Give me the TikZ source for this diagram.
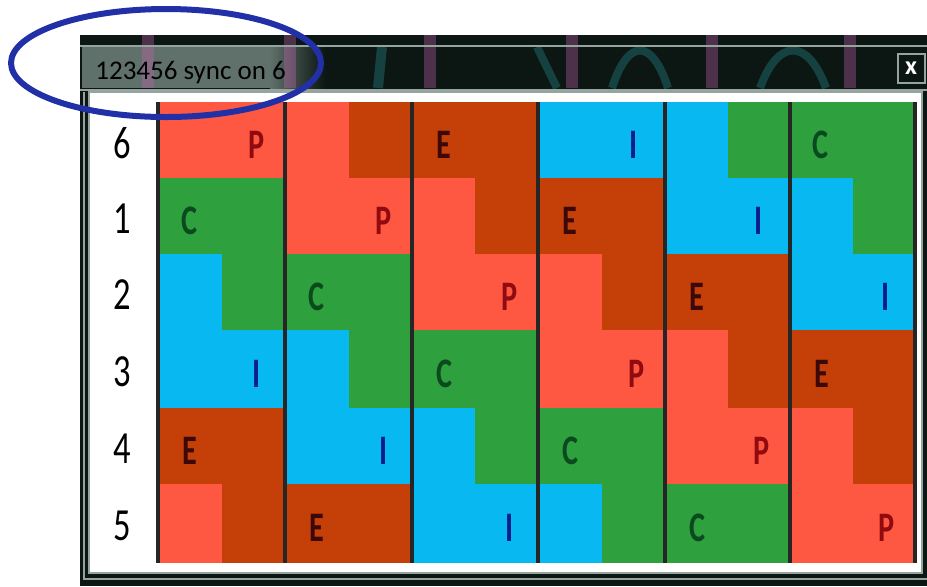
\documentclass[tikz,border=0pt]{standalone}
\usepackage{fontspec}
\setmainfont{Carlito}
\usepackage{xcolor}
\definecolor{sync-red}{RGB}{255,88,66}
\definecolor{sync-brown}{RGB}{196,64,8}
\definecolor{sync-green}{RGB}{46,160,62}
\definecolor{sync-cyan}{RGB}{8,184,240}
\definecolor{sync-ring}{RGB}{34,48,168}
\definecolor{ink-p}{RGB}{144,10,16}
\definecolor{ink-c}{RGB}{11,74,30}
\definecolor{ink-i}{RGB}{10,31,138}
\definecolor{ink-e}{RGB}{60,8,8}
\definecolor{frame-dark}{RGB}{12,22,18}
\definecolor{frame-grey}{RGB}{96,112,106}
\definecolor{frame-line}{RGB}{150,164,160}
\definecolor{frame-teal}{RGB}{30,110,110}
\definecolor{frame-pink}{RGB}{200,100,180}

\begin{document}
\begin{tikzpicture}[x=0.5pt, y=-0.5pt, every node/.style={inner sep=0pt},
  tag/.style={font=\bfseries\fontsize{21}{21}\selectfont, xscale=0.72},
  ptag/.style={tag, text=ink-p}, ctag/.style={tag, text=ink-c},
  itag/.style={tag, text=ink-i}, etag/.style={tag, text=ink-e},
  rowlabel/.style={font=\fontsize{23}{23}\selectfont, xscale=0.75, text=black},
  divider/.style={draw=black!85, line width=1.6pt}]
  \useasboundingbox (0,0) rectangle (927,586);

  % Window frame and title bar
  \fill[frame-dark] (80,35) rectangle (927,586);
  \fill[frame-grey] (82,47) rectangle (270,88);
  \shade[left color=frame-grey, right color=frame-dark] (270,47) rectangle (325,88);
  \foreach \x in {148,290,430,572,712,850}
    \fill[frame-pink, opacity=0.35] (\x-6,35) rectangle (\x+6,88);
  \draw[frame-teal, line width=5pt, opacity=0.5] (382,47) -- (378,88);
  \draw[frame-teal, line width=4pt, opacity=0.5] (537,47) -- (557,88);
  \draw[frame-teal, line width=4pt, opacity=0.5] (612,88) .. controls (628,38) and (652,38) .. (668,88);
  \draw[frame-teal, line width=4pt, opacity=0.5] (760,88) .. controls (778,38) and (808,38) .. (826,88);
  \draw[frame-line, line width=0.8pt] (80,46) -- (927,46);
  \draw[frame-line, line width=1.2pt] (80,90) -- (927,90);
  \node[anchor=base west, font=\fontsize{13.5}{14}\selectfont, text=black] (title) at (95,79) {123456 sync on 6};
  \node[draw=frame-line, line width=1pt, fill=frame-dark, minimum width=13.5pt, minimum height=14.5pt,
    text=white, font=\bfseries\fontsize{13}{13}\selectfont] (close) at (911,68) {x};
  \draw[fill=white, draw=frame-line, line width=1pt] (89,92) rectangle (922,573);
  \draw[frame-line, line width=0.8pt] (84,92) -- (84,579) -- (927,579);

  % Column 1
  \fill[sync-red] (158,102) rectangle (285,178);
  \fill[sync-green] (158,178) rectangle (285,330);
  \fill[sync-cyan] (158,254) rectangle (221.5,330);
  \fill[sync-cyan] (158,330) rectangle (285,408);
  \fill[sync-brown] (158,408) rectangle (285,563);
  \fill[sync-red] (158,484) rectangle (221.5,563);
  \node[ptag] (p1) at (257,145) {P};
  \node[ctag] (c1) at (190,221) {C};
  \node[itag] (i1) at (257,374) {I};
  \node[etag] (e1) at (190,451) {E};

  % Column 2
  \fill[sync-brown] (285,102) rectangle (412,178);
  \fill[sync-red] (285,102) rectangle (348.5,178);
  \fill[sync-red] (285,178) rectangle (412,254);
  \fill[sync-green] (285,254) rectangle (412,408);
  \fill[sync-cyan] (285,330) rectangle (348.5,408);
  \fill[sync-cyan] (285,408) rectangle (412,484);
  \fill[sync-brown] (285,484) rectangle (412,563);
  \node[ptag] (p2) at (384,221) {P};
  \node[ctag] (c2) at (317,297) {C};
  \node[itag] (i2) at (384,451) {I};
  \node[etag] (e2) at (317,528) {E};

  % Column 3
  \fill[sync-brown] (412,102) rectangle (538,254);
  \fill[sync-red] (412,178) rectangle (475,254);
  \fill[sync-red] (412,254) rectangle (538,330);
  \fill[sync-green] (412,330) rectangle (538,484);
  \fill[sync-cyan] (412,408) rectangle (475,484);
  \fill[sync-cyan] (412,484) rectangle (538,563);
  \node[etag] (e3) at (444,145) {E};
  \node[ptag] (p3) at (510,297) {P};
  \node[ctag] (c3) at (444,374) {C};
  \node[itag] (i3) at (510,528) {I};

  % Column 4
  \fill[sync-cyan] (538,102) rectangle (665,178);
  \fill[sync-brown] (538,178) rectangle (665,330);
  \fill[sync-red] (538,254) rectangle (601.5,330);
  \fill[sync-red] (538,330) rectangle (665,408);
  \fill[sync-green] (538,408) rectangle (665,563);
  \fill[sync-cyan] (538,484) rectangle (601.5,563);
  \node[itag] (i4) at (634,145) {I};
  \node[etag] (e4) at (570,221) {E};
  \node[ptag] (p4) at (637,374) {P};
  \node[ctag] (c4) at (570,451) {C};

  % Column 5
  \fill[sync-green] (665,102) rectangle (790,178);
  \fill[sync-cyan] (665,102) rectangle (727.5,178);
  \fill[sync-cyan] (665,178) rectangle (790,254);
  \fill[sync-brown] (665,254) rectangle (790,408);
  \fill[sync-red] (665,330) rectangle (727.5,408);
  \fill[sync-red] (665,408) rectangle (790,484);
  \fill[sync-green] (665,484) rectangle (790,563);
  \node[itag] (i5) at (759,221) {I};
  \node[etag] (e5) at (697,297) {E};
  \node[ptag] (p5) at (762,451) {P};
  \node[ctag] (c5) at (697,528) {C};

  % Column 6
  \fill[sync-green] (790,102) rectangle (915,254);
  \fill[sync-cyan] (790,178) rectangle (852.5,254);
  \fill[sync-cyan] (790,254) rectangle (915,330);
  \fill[sync-brown] (790,330) rectangle (915,484);
  \fill[sync-red] (790,408) rectangle (852.5,484);
  \fill[sync-red] (790,484) rectangle (915,563);
  \node[ctag] (c6) at (820,145) {C};
  \node[itag] (i6) at (886,297) {I};
  \node[etag] (e6) at (822,374) {E};
  \node[ptag] (p6) at (887,528) {P};

  % Column dividers
  \foreach \x in {158,285,412,538,665,790,915}
    \draw[divider] (\x,102) -- (\x,563);

  % Row labels
  \node[rowlabel] (row6) at (122,143) {6};
  \node[rowlabel] (row1) at (122,219) {1};
  \node[rowlabel] (row2) at (122,295) {2};
  \node[rowlabel] (row3) at (122,372) {3};
  \node[rowlabel] (row4) at (122,449) {4};
  \node[rowlabel] (row5) at (122,526) {5};

  % Hand-drawn ring round the title
  \draw[sync-ring, line width=3pt] (166,63) ellipse [x radius=155, y radius=54];
\end{tikzpicture}
\end{document}
